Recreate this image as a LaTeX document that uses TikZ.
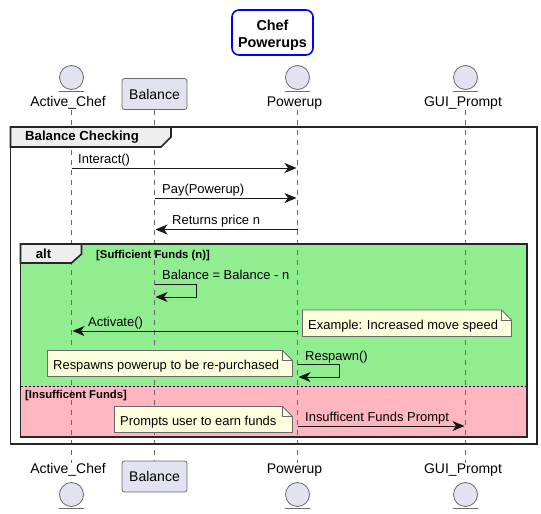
\documentclass[tikz,border=0pt]{standalone}
\usepackage{fontspec}
\setmainfont{Liberation Sans}
\usetikzlibrary{arrows.meta, positioning}
\definecolor{partfill}{HTML}{E2E2F0}
\definecolor{partline}{HTML}{6A6A6A}
\definecolor{notefill}{HTML}{FEFFDD}
\definecolor{tabfill}{HTML}{EEEEEE}
\definecolor{okfill}{HTML}{90EE90}
\definecolor{nofill}{HTML}{FFB6C1}

\begin{document}
\begin{tikzpicture}[
  x=1pt, y=-1pt,
  font=\fontsize{12.95}{15}\selectfont,
  entity/.style={circle, draw=partline, fill=partfill, line width=0.8pt, minimum size=24pt, inner sep=0pt},
  entityline/.style={draw=partline, line width=0.8pt},
  partbox/.style={rectangle, rounded corners=2.5pt, draw=partline, fill=partfill, line width=0.8pt, minimum width=65pt, minimum height=31pt, inner sep=0pt, font=\fontsize{14}{16}\selectfont},
  partname/.style={inner sep=0pt, minimum height=14pt, font=\fontsize{14}{16}\selectfont},
  life/.style={draw=partline, line width=0.7pt, dash pattern=on 5pt off 5pt},
  msg/.style={-{Stealth[length=12pt, width=10pt, inset=3.5pt]}, line width=0.9pt, black!90},
  msgtext/.style={anchor=base west, inner sep=0pt},
  frame/.style={draw=black!85, line width=1.6pt},
  tab/.style={draw=black!85, fill=tabfill, line width=1.6pt, line join=miter},
  notebox/.style={draw=partline, fill=notefill, line width=0.8pt, line join=miter},
  guard/.style={anchor=base west, inner sep=0pt, font=\fontsize{11.3}{13}\selectfont\bfseries}
]
\useasboundingbox (0,0) rectangle (541,514);

% title
\node[draw=blue, line width=1.6pt, rounded corners=7pt, align=center, inner sep=0pt, minimum width=81pt, minimum height=45pt,
  font=\fontsize{14.4}{17}\selectfont\bfseries] (title) at (272.5,32.5) {\rule{0pt}{15.5pt}Chef\\Powerups};

% coloured areas of the alt block
\path[fill=okfill] (20.5,244) rectangle (527,386);
\path[fill=nofill] (20.5,386) rectangle (527,437);

% entity circles
\node[entity] (chefc) at (71.5,77.5) {};
\node[entity] (powerupc) at (297.5,77.5) {};
\node[entity] (guic) at (465.5,77.5) {};
\node[entity] (chefbc) at (71.5,494.5) {};
\node[entity] (powerupbc) at (297.5,494.5) {};
\node[entity] (guibc) at (465.5,494.5) {};
\draw[entityline] (59,91) -- (84,91);
\draw[entityline] (285,91) -- (310,91);
\draw[entityline] (453,91) -- (478,91);
\draw[entityline] (59,508) -- (84,508);
\draw[entityline] (285,508) -- (310,508);
\draw[entityline] (453,508) -- (478,508);

% participants, top
\node[partname] (chef) at (68,103) {Active\_Chef};
\node[partbox] (balance) at (154.5,94) {Balance};
\node[partname] (powerup) at (294.5,103) {Powerup};
\node[partname] (gui) at (463,103) {GUI\_Prompt};

% participants, bottom
\node[partname] (chefb) at (68,470) {Active\_Chef};
\node[partbox] (balanceb) at (154.5,476.5) {Balance};
\node[partname] (powerupb) at (294.5,470) {Powerup};
\node[partname] (guib) at (463,470) {GUI\_Prompt};

% lifelines
\draw[life] (chef.south -| chefc) -- (chefb.north -| chefc);
\draw[life] (balance.south) -- (balanceb.north);
\draw[life] (powerup.south -| powerupc) -- (powerupb.north -| powerupc);
\draw[life] (gui.south -| guic) -- (guib.north -| guic);

% group frame
\draw[frame] (10.5,127) rectangle (537,444);
\draw[tab] (10.5,127) -- (171,127) -- (171,137) -- (161,147) -- (10.5,147) -- cycle;
\node[inner sep=0pt, font=\fontsize{13.2}{15}\selectfont\bfseries] (grouplabel) at (82,137) {Balance Checking};

% alt frame
\draw[frame] (20.5,244) rectangle (527,437);
\draw[tab] (20.5,244) -- (81.5,244) -- (81.5,254) -- (71.5,263) -- (20.5,263) -- cycle;
\node[inner sep=0pt, font=\fontsize{13.2}{15}\selectfont\bfseries] (altlabel) at (43.5,254) {alt};
\node[guard] (okguard) at (96,258) {[Sufficient Funds (n)]};
\draw[black, line width=0.7pt, dash pattern=on 2pt off 2pt] (20.5,386) -- (527,386);
\node[guard] (noguard) at (25,398) {[Insufficent Funds]};

% messages
\coordinate (interactA) at (71.5,168);
\coordinate (interactB) at (296.5,168);
\draw[msg] (interactA) -- (interactB);
\node[msgtext] (interacttext) at (78,163.5) {Interact()};

\coordinate (payA) at (154.5,198);
\coordinate (payB) at (296.5,198);
\draw[msg] (payA) -- (payB);
\node[msgtext] (paytext) at (162,193.5) {Pay(Powerup)};

\coordinate (priceA) at (297.5,229.5);
\coordinate (priceB) at (155.5,229.5);
\draw[msg] (priceA) -- (priceB);
\node[msgtext] (pricetext) at (172,224) {Returns price n};

\coordinate (selfA) at (154.5,284);
\coordinate (selfB) at (155.5,297);
\draw[msg] (selfA) -- (196.5,284) -- (196.5,297) -- (selfB);
\node[msgtext] (selftext) at (162,279.5) {Balance = Balance - n};

\coordinate (activateA) at (297.5,331);
\coordinate (activateB) at (72.5,331);
\draw[msg] (activateA) -- (activateB);
\node[msgtext] (activatetext) at (88,326) {Activate()};

\coordinate (respawnA) at (297.5,364.5);
\coordinate (respawnB) at (298.5,377);
\draw[msg] (respawnA) -- (339.5,364.5) -- (339.5,377) -- (respawnB);
\node[msgtext] (respawntext) at (305,360) {Respawn()};

\coordinate (promptA) at (297.5,426);
\coordinate (promptB) at (464.5,426);
\draw[msg] (promptA) -- (promptB);
\node[msgtext] (prompttext) at (305,421.5) {Insufficent Funds Prompt};

% notes
\draw[notebox] (302.5,310) -- (501.5,310) -- (511.5,320) -- (511.5,336.5) -- (302.5,336.5) -- cycle;
\draw[notebox, fill=none] (501.5,310) -- (501.5,320) -- (511.5,320);
\node[msgtext] (notespeed) at (308,329.5) {Example: Increased move speed};

\draw[notebox] (47.5,350.5) -- (282.5,350.5) -- (292.5,360.5) -- (292.5,376.5) -- (47.5,376.5) -- cycle;
\draw[notebox, fill=none] (282.5,350.5) -- (282.5,360.5) -- (292.5,360.5);
\node[msgtext] (noterespawn) at (53,369) {Respawns powerup to be re-purchased};

\draw[notebox] (114.5,406.5) -- (282.5,406.5) -- (292.5,416.5) -- (292.5,432.5) -- (114.5,432.5) -- cycle;
\draw[notebox, fill=none] (282.5,406.5) -- (282.5,416.5) -- (292.5,416.5);
\node[msgtext] (noteprompt) at (120,425) {Prompts user to earn funds};
\end{tikzpicture}
\end{document}
